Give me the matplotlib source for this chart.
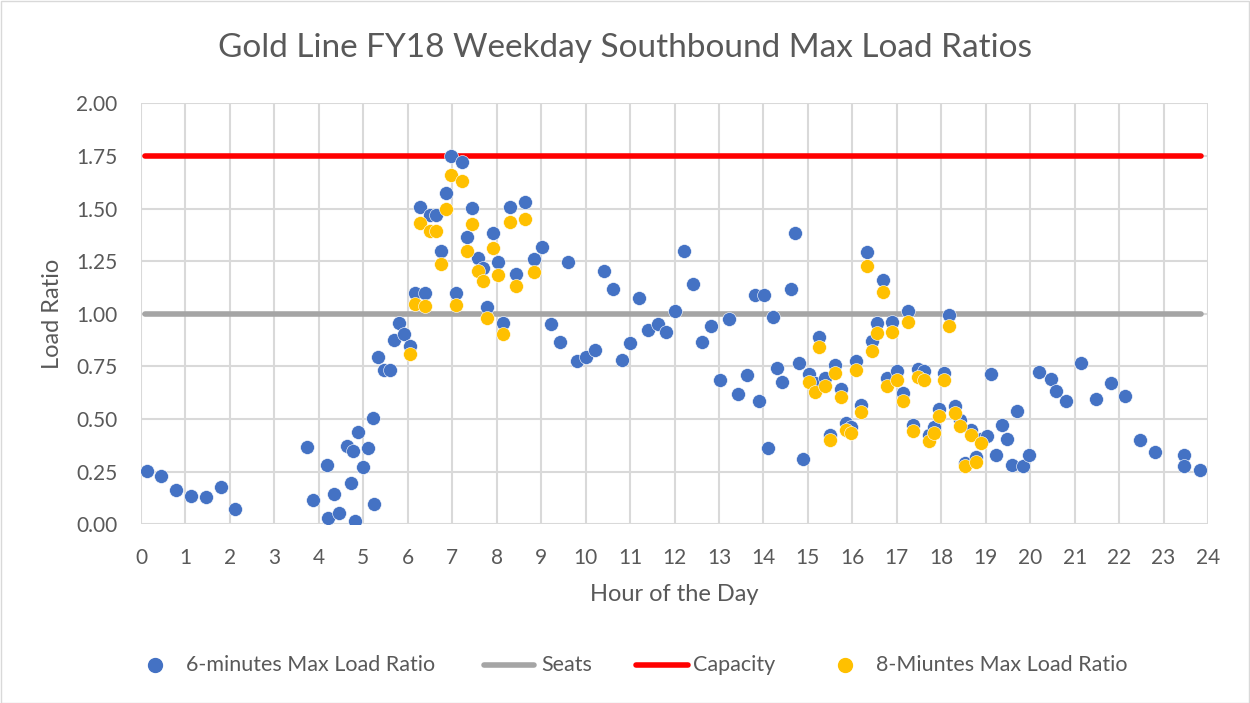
import matplotlib
matplotlib.use("Agg")
import matplotlib.pyplot as plt
from matplotlib.patches import Rectangle
from matplotlib.lines import Line2D

plt.rcParams['font.family'] = ['Lato', 'DejaVu Sans']

title = "Gold Line FY18 Weekday Southbound Max Load Ratios"
x_label = "Hour of the Day"
y_label = "Load Ratio"

six_x = [0.13, 0.45, 0.79, 1.12, 1.46, 1.79, 2.12,
         3.74, 3.87, 4.18, 4.21, 4.33, 4.45, 4.63, 4.72, 4.76, 4.82, 4.88, 4.99, 5.10, 5.22, 5.24,
         5.34, 5.47, 5.59, 5.69, 5.81, 5.92, 6.05, 6.16, 6.28, 6.39, 6.50, 6.64, 6.74, 6.86, 6.97,
         7.09, 7.21, 7.33, 7.45, 7.57, 7.69, 7.79, 7.92, 8.02, 8.15, 8.29, 8.44, 8.63, 8.83, 9.01,
         9.22, 9.42, 9.61, 9.81, 10.02, 10.21, 10.42, 10.62, 10.81, 11.00, 11.21, 11.41, 11.62,
         11.81, 12.01, 12.22, 12.41, 12.62, 12.82, 13.02, 13.22, 13.42, 13.62, 13.81, 13.91, 14.02,
         14.11, 14.22, 14.31, 14.42, 14.62, 14.70, 14.81, 14.90, 15.02, 15.15, 15.26, 15.39, 15.50,
         15.62, 15.74, 15.85, 15.97, 16.09, 16.20, 16.33, 16.44, 16.55, 16.68, 16.78, 16.90, 17.01,
         17.14, 17.26, 17.37, 17.48, 17.61, 17.73, 17.84, 17.95, 18.07, 18.18, 18.31, 18.43, 18.54,
         18.66, 18.79, 18.89, 19.02, 19.12, 19.24, 19.36, 19.47, 19.59, 19.70, 19.83, 19.98, 20.20,
         20.47, 20.59, 20.81, 21.15, 21.47, 21.81, 22.14, 22.47, 22.80, 23.47, 23.47, 23.81]
six_y = [0.253, 0.230, 0.164, 0.136, 0.131, 0.176, 0.072,
         0.367, 0.117, 0.283, 0.031, 0.142, 0.055, 0.373, 0.195, 0.347, 0.017, 0.438, 0.271, 0.362, 0.505, 0.096,
         0.795, 0.733, 0.733, 0.875, 0.958, 0.903, 0.848, 1.100, 1.509, 1.097, 1.469, 1.469, 1.300, 1.575, 1.750,
         1.097, 1.721, 1.366, 1.503, 1.265, 1.219, 1.034, 1.382, 1.248, 0.955, 1.509, 1.190, 1.530, 1.260, 1.319,
         0.950, 0.865, 1.246, 0.777, 0.795, 0.830, 1.205, 1.120, 0.781, 0.860, 1.074, 0.923, 0.951,
         0.914, 1.015, 1.297, 1.140, 0.865, 0.944, 0.686, 0.974, 0.619, 0.708, 1.088, 0.584, 1.088,
         0.361, 0.986, 0.743, 0.677, 1.119, 1.382, 0.764, 0.311, 0.714, 0.670, 0.889, 0.695, 0.424,
         0.758, 0.641, 0.480, 0.462, 0.777, 0.567, 1.292, 0.869, 0.955, 1.161, 0.693, 0.961, 0.727,
         0.622, 1.013, 0.472, 0.739, 0.727, 0.424, 0.464, 0.549, 0.720, 0.996, 0.562, 0.495, 0.290,
         0.448, 0.318, 0.405, 0.421, 0.712, 0.329, 0.472, 0.406, 0.283, 0.540, 0.276, 0.329, 0.725,
         0.692, 0.632, 0.584, 0.765, 0.594, 0.671, 0.611, 0.400, 0.342, 0.329, 0.277, 0.256]

eight_x = [6.05, 6.16, 6.28, 6.39, 6.50, 6.64, 6.74, 6.86, 6.97, 7.09, 7.21, 7.33, 7.45, 7.57,
           7.69, 7.79, 7.92, 8.02, 8.15, 8.29, 8.44, 8.63, 8.83,
           15.02, 15.15, 15.26, 15.39, 15.50, 15.62, 15.74, 15.86, 15.97, 16.09, 16.20, 16.33, 16.44,
           16.55, 16.68, 16.78, 16.90, 17.01, 17.14, 17.26, 17.37, 17.48, 17.61, 17.73, 17.84, 17.95,
           18.07, 18.18, 18.31, 18.43, 18.54, 18.66, 18.79, 18.89]
eight_y = [0.808, 1.045, 1.433, 1.039, 1.395, 1.395, 1.235, 1.496, 1.661, 1.043, 1.632, 1.297, 1.427, 1.203,
           1.156, 0.981, 1.314, 1.184, 0.906, 1.435, 1.132, 1.452, 1.197,
           0.674, 0.627, 0.844, 0.657, 0.400, 0.717, 0.606, 0.449, 0.432, 0.733, 0.535, 1.227, 0.825,
           0.907, 1.102, 0.657, 0.912, 0.686, 0.587, 0.961, 0.443, 0.701, 0.686, 0.397, 0.435, 0.516,
           0.684, 0.944, 0.530, 0.467, 0.277, 0.424, 0.297, 0.388]

line_x = [0.08, 23.85]
seats_y = [1.0, 1.0]
capacity_y = [1.75, 1.75]

x_ticks = list(range(0, 25))
y_ticks = [0.0, 0.25, 0.5, 0.75, 1.0, 1.25, 1.5, 1.75, 2.0]

legend_labels = ["6-minutes Max Load Ratio", "Seats", "Capacity", "8-Miuntes Max Load Ratio"]

BLUE = "#4472C4"
GOLD = "#FFC000"
GRAY = "#A5A5A5"
RED = "#FF0000"
TXT = "#595959"
GRID = "#D9D9D9"

W, H = 1250, 703
fig = plt.figure(figsize=(12.5, 7.03), dpi=100)
ax = fig.add_axes([141/W, 1-524.3/H, (1208-141)/W, (524.3-103.3)/H])

ax.set_xlim(0, 24)
ax.set_ylim(0, 2.0)
ax.set_xticks(x_ticks)
ax.set_yticks(y_ticks)
ax.set_yticklabels([f"{v:.2f}" for v in y_ticks])
ax.grid(True, color=GRID, linewidth=1.5, zorder=0)
ax.set_axisbelow(True)
for s in ax.spines.values():
    s.set_visible(False)
ax.tick_params(axis='both', length=0, labelsize=15, colors=TXT)
ax.tick_params(axis='y', pad=17)
ax.tick_params(axis='x', pad=17)

ax.plot(line_x, seats_y, color=GRAY, linewidth=4, solid_capstyle='round', zorder=2)
ax.plot(line_x, capacity_y, color=RED, linewidth=4, solid_capstyle='round', zorder=2)
ax.scatter(six_x, six_y, s=100, color=BLUE, edgecolors='white', linewidths=0.4, zorder=3)
ax.scatter(eight_x, eight_y, s=100, color=GOLD, edgecolors='white', linewidths=0.4, zorder=4)

ax.set_xlabel(x_label, fontsize=17, color=TXT)
ax.set_ylabel(y_label, fontsize=17, color=TXT)
ax.xaxis.set_label_coords(0.5, (524.3-584)/421.0)
ax.yaxis.set_label_coords((63-141)/1067.0, 0.5)
fig.text(0.5, 1-48/H, title, ha='center', va='center', fontsize=24, color=TXT)

# manual legend
ly = 1 - 665/H
fs = 15.5
fig.add_artist(Line2D([155/W], [ly], marker='o', markersize=10, color=BLUE, linestyle='none',
                      transform=fig.transFigure))
fig.text(186/W, ly, legend_labels[0], ha='left', va='center', fontsize=fs, color=TXT)
fig.add_artist(Line2D([484/W, 534/W], [ly, ly], color=GRAY, linewidth=4, solid_capstyle='round',
                      transform=fig.transFigure))
fig.text(541/W, ly, legend_labels[1], ha='left', va='center', fontsize=fs, color=TXT)
fig.add_artist(Line2D([636/W, 688/W], [ly, ly], color=RED, linewidth=4, solid_capstyle='round',
                      transform=fig.transFigure))
fig.text(693/W, ly, legend_labels[2], ha='left', va='center', fontsize=fs, color=TXT)
fig.add_artist(Line2D([845/W], [ly], marker='o', markersize=10, color=GOLD, linestyle='none',
                      transform=fig.transFigure))
fig.text(876/W, ly, legend_labels[3], ha='left', va='center', fontsize=fs, color=TXT)

fig.add_artist(Rectangle((0.5/W, 0.5/H), 1-1.5/W, 1-1.5/H, transform=fig.transFigure,
                         fill=False, edgecolor=GRID, linewidth=1))

fig.savefig("out.png", dpi=100)
